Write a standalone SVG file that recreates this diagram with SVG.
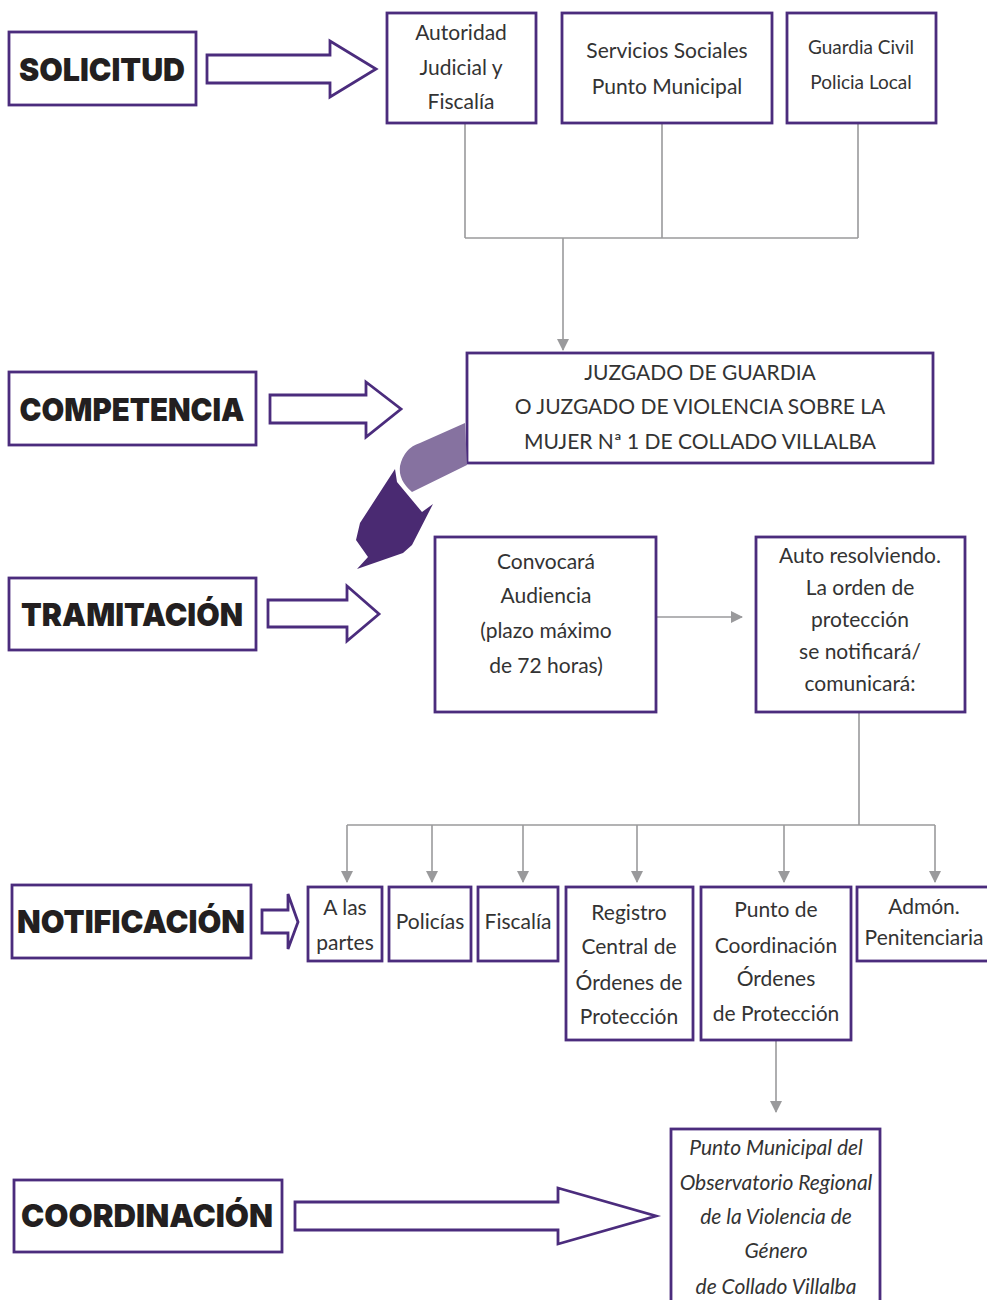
<svg xmlns="http://www.w3.org/2000/svg" width="987" height="1300" viewBox="0 0 987 1300">
<style>
.box{fill:#fff;stroke:#4b2c7d;stroke-width:2.8}
.barrow{fill:#fff;stroke:#4b2c7d;stroke-width:2.8;stroke-linejoin:miter}
.lbl{font-family:Inter,Lato,"Liberation Sans",sans-serif;font-weight:900;font-size:32px;fill:#231f20;text-anchor:middle}
.t{font-family:Lato,"Open Sans","Liberation Sans",sans-serif;font-size:21px;fill:#333;text-anchor:middle}
.ti{font-family:Lato,"Open Sans","Liberation Sans",sans-serif;font-size:21px;fill:#333;text-anchor:middle;font-style:italic}
.c{fill:none;stroke:#9a9a9c;stroke-width:1.6}
</style>
<defs>
<marker id="ah" markerWidth="12" markerHeight="16" refX="11" refY="6" orient="auto" markerUnits="userSpaceOnUse" viewBox="0 0 12 12">
<path d="M0,0 L12,6 L0,12 Z" fill="#9a9a9c"/>
</marker>
</defs>

<!-- connectors -->
<g id="connectors">
<path class="c" d="M465,123 V238 M662,123 V238 M858,123 V238 M465,238 H858"/>
<path class="c" d="M563,238 V350" marker-end="url(#ah)"/>
<path class="c" d="M656,617 H742" marker-end="url(#ah)"/>
<path class="c" d="M859,712 V825 M347,825 H935"/>
<path class="c" d="M347,825 V882" marker-end="url(#ah)"/>
<path class="c" d="M432,825 V882" marker-end="url(#ah)"/>
<path class="c" d="M523,825 V882" marker-end="url(#ah)"/>
<path class="c" d="M637,825 V882" marker-end="url(#ah)"/>
<path class="c" d="M784,825 V882" marker-end="url(#ah)"/>
<path class="c" d="M935,825 V882" marker-end="url(#ah)"/>
<path class="c" d="M776,1040 V1112" marker-end="url(#ah)"/>
</g>

<!-- stage labels -->
<g id="solicitud">
<rect class="box" x="9" y="32" width="187" height="73"/>
<text class="lbl" x="102" y="81" textLength="166" lengthAdjust="spacingAndGlyphs">SOLICITUD</text>
</g>
<g id="arrow-solicitud">
<path class="barrow" d="M207,55 H330 V41 L376,69 L330,97 V83 H207 Z"/>
</g>

<g id="competencia">
<rect class="box" x="9" y="372" width="247" height="73"/>
<text class="lbl" x="132" y="421" textLength="225" lengthAdjust="spacingAndGlyphs">COMPETENCIA</text>
</g>
<g id="arrow-competencia">
<path class="barrow" d="M270,395 H366 V382 L401,409 L366,437 V423 H270 Z"/>
</g>

<g id="tramitacion">
<rect class="box" x="9" y="578" width="247" height="72"/>
<text class="lbl" x="132" y="626" textLength="222" lengthAdjust="spacingAndGlyphs">TRAMITACIÓN</text>
</g>
<g id="arrow-tramitacion">
<path class="barrow" d="M268,600 H347 V586 L379,614 L347,641 V627 H268 Z"/>
</g>

<g id="notificacion">
<rect class="box" x="12" y="885" width="239" height="73"/>
<text class="lbl" x="131" y="933" textLength="228" lengthAdjust="spacingAndGlyphs">NOTIFICACIÓN</text>
</g>
<g id="arrow-notificacion">
<path class="barrow" d="M262,910 H288 V894 L298,922 L288,949 V933 H262 Z"/>
</g>

<g id="coordinacion">
<rect class="box" x="14" y="1180" width="268" height="72"/>
<text class="lbl" x="147" y="1227" textLength="252" lengthAdjust="spacingAndGlyphs">COORDINACIÓN</text>
</g>
<g id="arrow-coordinacion">
<path class="barrow" d="M295,1202 H558 V1188 L656,1216 L558,1244 V1230 H295 Z"/>
</g>

<!-- top nodes -->
<g id="autoridad">
<rect class="box" x="387" y="13" width="149" height="110"/>
<text class="t" x="461" y="40">Autoridad</text>
<text class="t" x="461" y="75">Judicial y</text>
<text class="t" x="461" y="109">Fiscalía</text>
</g>
<g id="servicios">
<rect class="box" x="562" y="13" width="210" height="110"/>
<text class="t" x="667" y="58">Servicios Sociales</text>
<text class="t" x="667" y="94">Punto Municipal</text>
</g>
<g id="guardia">
<rect class="box" x="787" y="13" width="149" height="110"/>
<text class="t" x="861" y="54" style="font-size:19px">Guardia Civil</text>
<text class="t" x="861" y="89" style="font-size:19px">Policia Local</text>
</g>

<g id="juzgado">
<rect class="box" x="467" y="353" width="466" height="110"/>
<text class="t" x="700" y="380">JUZGADO DE GUARDIA</text>
<text class="t" x="700" y="414">O JUZGADO DE VIOLENCIA SOBRE LA</text>
<text class="t" x="700" y="449">MUJER Nª 1 DE COLLADO VILLALBA</text>
</g>

<g id="decoration">
<path d="M465,423 L467,465 L412,492 Q398,480 400,466 Q404,448 420,443 Z" fill="#8672a0"/>
<path d="M395,469 L397,482 L422,512 L433,504 L412,545 L403,553 L357,569 L368,557 L356,540 L360,523 Z" fill="#4a2a72"/>
</g>

<g id="convocara">
<rect class="box" x="435" y="537" width="221" height="175"/>
<text class="t" x="546" y="569">Convocará</text>
<text class="t" x="546" y="603">Audiencia</text>
<text class="t" x="546" y="638">(plazo máximo</text>
<text class="t" x="546" y="673">de 72 horas)</text>
</g>
<g id="auto">
<rect class="box" x="756" y="537" width="209" height="175"/>
<text class="t" x="860" y="563">Auto resolviendo.</text>
<text class="t" x="860" y="595">La orden de</text>
<text class="t" x="860" y="627">protección</text>
<text class="t" x="860" y="659">se notificará/</text>
<text class="t" x="860" y="691">comunicará:</text>
</g>

<!-- notification targets -->
<g id="partes">
<rect class="box" x="308" y="887" width="74" height="74"/>
<text class="t" x="345" y="915">A las</text>
<text class="t" x="345" y="950">partes</text>
</g>
<g id="policias">
<rect class="box" x="389" y="887" width="82" height="74"/>
<text class="t" x="430" y="929">Policías</text>
</g>
<g id="fiscalia">
<rect class="box" x="478" y="887" width="80" height="74"/>
<text class="t" x="518" y="929">Fiscalía</text>
</g>
<g id="registro">
<rect class="box" x="566" y="887" width="127" height="153"/>
<text class="t" x="629" y="920">Registro</text>
<text class="t" x="629" y="954">Central de</text>
<text class="t" x="629" y="990">Órdenes de</text>
<text class="t" x="629" y="1024">Protección</text>
</g>
<g id="punto-coordinacion">
<rect class="box" x="701" y="887" width="150" height="153"/>
<text class="t" x="776" y="917">Punto de</text>
<text class="t" x="776" y="953">Coordinación</text>
<text class="t" x="776" y="986">Órdenes</text>
<text class="t" x="776" y="1021">de Protección</text>
</g>
<g id="admon">
<rect class="box" x="857" y="887" width="135" height="74"/>
<text class="t" x="924" y="914">Admón.</text>
<text class="t" x="924" y="945">Penitenciaria</text>
</g>

<g id="punto-municipal">
<rect class="box" x="671" y="1129" width="209" height="185"/>
<text class="ti" x="776" y="1155">Punto Municipal del</text>
<text class="ti" x="776" y="1190">Observatorio Regional</text>
<text class="ti" x="776" y="1224">de la Violencia de</text>
<text class="ti" x="776" y="1258">Género</text>
<text class="ti" x="776" y="1294">de Collado Villalba</text>
</g>
</svg>
